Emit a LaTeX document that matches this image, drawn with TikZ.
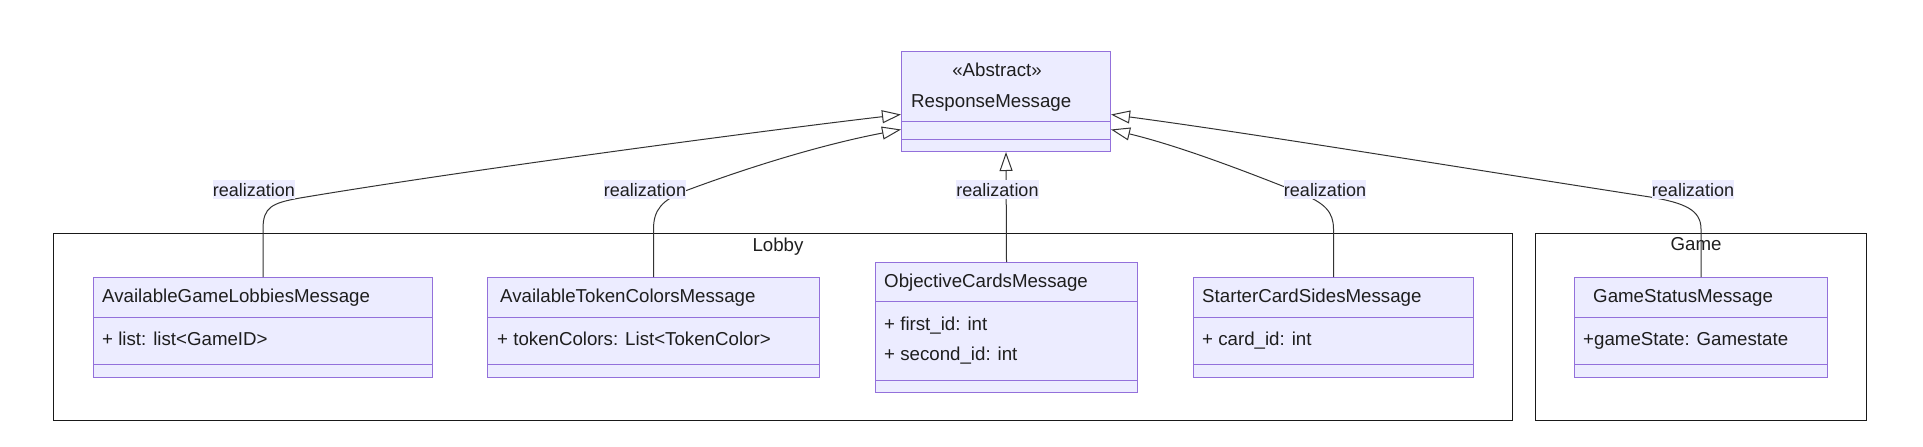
\documentclass[tikz,border=0pt]{standalone}
\usepackage{fontspec}
\setmainfont{Liberation Sans}
\usepackage{xcolor}
\usetikzlibrary{arrows.meta, calc}
\definecolor{umlfill}{HTML}{ECECFF}
\definecolor{umlline}{HTML}{9370DB}
\definecolor{edgeline}{HTML}{333333}
\definecolor{ink}{HTML}{1E1E1E}

\begin{document}
\begin{tikzpicture}[x=1pt, y=-1pt,
    every node/.style={inner sep=0pt, text=ink, font=\fontsize{18.7}{22}\selectfont},
    classbox/.style={draw=umlline, fill=umlfill, line width=1pt, anchor=north west},
    member/.style={anchor=base west},
    frame/.style={draw=black!90, line width=1.2pt, anchor=north west},
    realize/.style={draw=edgeline, line width=1pt, -{Triangle[length=19pt, width=13pt, fill=white]}},
    edgelabel/.style={fill=umlfill, text height=16pt, text depth=3pt, anchor=base, font=\fontsize{18}{22}\selectfont}]
    \useasboundingbox (0,0) rectangle (1923,447);

    \node[frame, minimum width=1459pt, minimum height=187pt] (lobby) at (53,233) {};
    \node[frame, minimum width=331pt, minimum height=187pt] (game) at (1535,233) {};
    \node[anchor=base] (lobbyT) at (778,251) {Lobby};
    \node[anchor=base] (gameT) at (1696,250) {Game};

    \node[classbox, minimum width=209pt, minimum height=100pt] (resp) at (901,51) {};
    \node[classbox, minimum width=339pt, minimum height=100pt] (lobbies) at (93,277) {};
    \node[classbox, minimum width=332pt, minimum height=100pt] (colors) at (487,277) {};
    \node[classbox, minimum width=262pt, minimum height=130pt] (objective) at (875,262) {};
    \node[classbox, minimum width=280pt, minimum height=100pt] (starter) at (1193,277) {};
    \node[classbox, minimum width=253pt, minimum height=100pt] (status) at (1574,277) {};
    \foreach \b/\p/\q in {resp/70/88, lobbies/40/87, colors/40/87, objective/39/118, starter/40/87, status/40/87}
        \draw[umlline, line width=1pt] ([yshift=-\p pt]\b.north west) -- ([yshift=-\p pt]\b.north east)
            ([yshift=-\q pt]\b.north west) -- ([yshift=-\q pt]\b.north east);

    \node[anchor=base] (respS) at (997,76) {«Abstract»};
    \node[member] (respT) at (911,107) {ResponseMessage};
    \node[member] (lobbiesT) at (102,302) {AvailableGameLobbiesMessage};
    \node[member] (lobbiesA) at (102,345) {+ list: list<GameID>};
    \node[member] (colorsT) at (500,302) {AvailableTokenColorsMessage};
    \node[member] (colorsA) at (497,345) {+ tokenColors: List<TokenColor>};
    \node[member] (objectiveT) at (884,287) {ObjectiveCardsMessage};
    \node[member] (objectiveA) at (884,330) {+ first\_id: int};
    \node[member] (objectiveB) at (884,360) {+ second\_id: int};
    \node[member] (starterT) at (1202,302) {StarterCardSidesMessage};
    \node[member] (starterA) at (1202,345) {+ card\_id: int};
    \node[member] (statusT) at (1593,302) {GameStatusMessage};
    \node[member] (statusA) at (1583,345) {+gameState: Gamestate};

    \draw[realize] (lobbies.north) -- ++(0,-48) .. controls +(0,-22) and (272,203) .. (300,198)
        .. controls (460,171) and (760,131) .. ([yshift=-13pt]resp.west);
    \draw[realize] (colors.north) -- ++(0,-48) .. controls +(0,-19) and (662,200) .. (685,191)
        .. controls (760,163) and (830,143) .. ([yshift=-28pt]resp.west);
    \draw[realize] (objective.north) -- (resp.south);
    \draw[realize] (starter.north) -- ++(0,-48) .. controls +(0,-17) and (1325,203) .. (1300,193)
        .. controls (1250,173) and (1180,146) .. ([yshift=-28pt]resp.east);
    \draw[realize] (status.north) -- ++(0,-48) .. controls +(0,-19) and (1685,203) .. (1650,197)
        .. controls (1450,166) and (1250,133) .. ([yshift=-13pt]resp.east);

    \node[edgelabel] (real1) at (254,196) {realization};
    \node[edgelabel] (real2) at (645,196) {realization};
    \node[edgelabel] (real3) at (997.5,196) {realization};
    \node[edgelabel] (real4) at (1325,196) {realization};
    \node[edgelabel] (real5) at (1693,196) {realization};
\end{tikzpicture}
\end{document}
